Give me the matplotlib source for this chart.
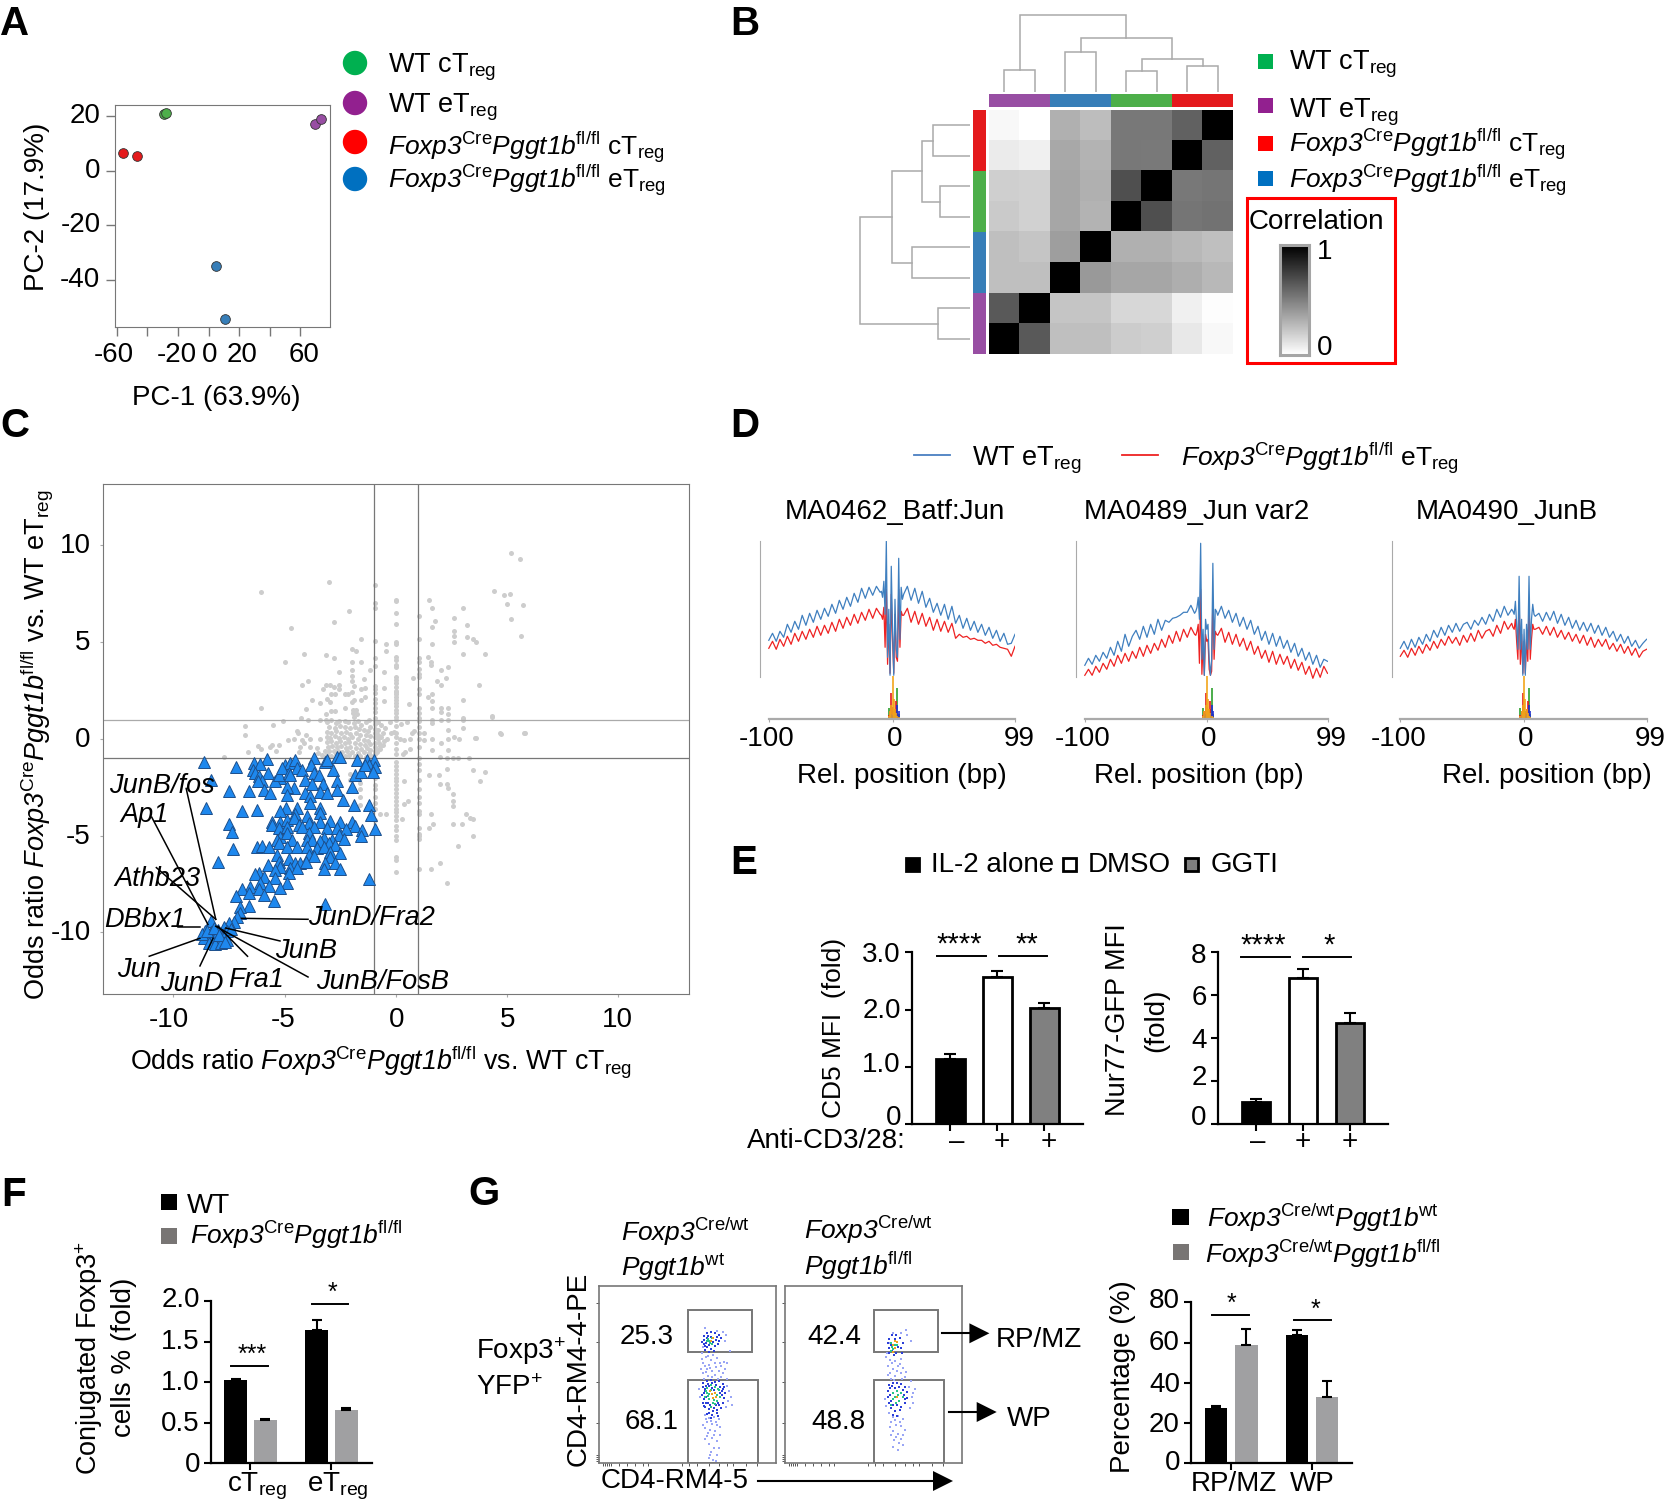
import numpy as np
import matplotlib
matplotlib.use('Agg')
import matplotlib.pyplot as plt
from matplotlib.patches import Rectangle, Ellipse, Polygon
from matplotlib.transforms import ScaledTranslation

plt.rcParams['font.family'] = ['Liberation Sans', 'DejaVu Sans']
plt.rcParams['mathtext.fontset'] = 'custom'
plt.rcParams['mathtext.rm'] = 'Liberation Sans'
plt.rcParams['mathtext.it'] = 'Liberation Sans:italic'
plt.rcParams['mathtext.cal'] = 'Liberation Sans:italic'
plt.rcParams['mathtext.bf'] = 'Liberation Sans:bold'
plt.rcParams['axes.unicode_minus'] = False

W, H = 1664, 1500

# panel A
pca_green = [[-29.2, 20.8], [-27.9, 21.0]]
pca_red = [[-56, 6.4], [-47, 5.4]]
pca_purple = [[69.8, 17.2], [74, 18.9]]
pca_blue = [[5.2, -34.8], [11, -54.2]]

# panel B, 0 white 1 black
corr = [[.03, .00, .31, .26, .53, .53, .62, 1.0],
        [.08, .06, .34, .30, .53, .52, 1.0, .62],
        [.19, .18, .35, .31, .69, 1.0, .53, .54],
        [.21, .18, .35, .30, 1.0, .69, .54, .55],
        [.25, .23, .38, 1.0, .31, .31, .28, .25],
        [.25, .25, 1.0, .40, .35, .35, .32, .28],
        [.65, 1.0, .23, .23, .16, .16, .06, .01],
        [1.0, .65, .25, .25, .20, .19, .09, .03]]
# dendrogram joins: pos a, pos b, height, height a, height b
top_tree = [[.5, 1.5, 22, 0, 0], [2.5, 3.5, 40, 0, 0], [4.5, 5.5, 21, 0, 0], [6.5, 7.5, 26, 0, 0],
            [5, 7, 33, 21, 26], [3, 6, 54, 40, 33], [1, 4.5, 77, 22, 54]]
left_tree = [[.5, 1.5, 37, 0, 0], [2.5, 3.5, 30, 0, 0], [1, 3, 48, 37, 30], [4.5, 5.5, 58, 0, 0],
             [2, 5, 78, 48, 58], [6.5, 7.5, 32, 0, 0], [3.5, 7, 110, 78, 32]]

# panel C
gray_col_m1 = [7.97, 6.78, 5.04, 4.16, 3.75, 2.74, 2.6, 2.35, 2.05, 1.85, 1.6, 1.4, 1.1, .95, .75, .5, .3, .1, -.2, -.4,
               -.6, -.8, -1.5, -2, -2.4, -2.6, -3, -3.3, -3.6, -4.2]
gray_col_0 = [7.17, 7.1, 6.5, 5.95, 5.0, 4.9, 4.25, 4.1, 3.8, 3.7, 3.2, 3.05, 2.9, 2.7, 2.5, 2.4, 2.3, 2.15, 2.0, 1.85,
              1.7, 1.5, 1.35, 1.15, 1.0, .65, .3, .1, -.2, -.5, -.8, -1.2, -1.4, -1.6, -1.8, -2, -2.2, -2.4, -2.6, -2.8,
              -3, -3.2, -3.4, -3.6, -3.8, -4, -4.2, -4.5, -4.7, -5.0, -5.2, -6.1, -6.26, -6.9]
gray_col_p1 = [6.35, 5.17, 4.17, 3.95, 3.6, 3.34, 3.2, 2.6, 2.33, 1.58, 1.32, 1.1, .9, .6, .3, 0, -.4, -1.0, -1.3, -1.6,
               -2.1, -2.6, -3, -3.3, -3.7, -3.9, -4.6, -4.9, -5.0, -5.15, -6.7]
gray_free = [[5.2, 9.59], [5.6, 9.28], [4.4, 7.64], [4.88, 7.44], [5.15, 7.5], [5.0, 6.97], [5.7, 6.92], [5.18, 6.2],
             [5.63, 5.32], [-6.07, 7.58], [-3.02, 8.09], [-.92, 7.02], [-2.12, 6.59], [-2.77, 6.03], [-4.72, 5.72],
             [-1.55, 5.15], [-1.96, 4.65], [-1.78, 4.53], [-.46, 4.9], [-.46, 4.56], [-4.13, 4.39], [-3.13, 4.32],
             [-2.77, 4.16], [-5.0, 3.99], [1.48, 7.16], [1.61, 6.77], [1.76, 6.11], [1.61, 5.8], [2.6, 6.25],
             [3.19, 5.87], [3.02, 6.78], [2.6, 5.56], [2.62, 5.32], [2.62, 4.99], [3.2, 5.25], [3.47, 5.18], [3.6, 4.99],
             [1.61, 4.9], [3.02, 4.39], [4.01, 4.39], [1.45, 4.22], [1.6, 3.99], [1.6, 3.82], [2.02, 3.58], [2.36, 3.7],
             [2.27, 3.17], [1.84, 3.0], [2.02, 2.8], [3.73, 2.8], [1.45, 2.18], [1.61, 2.32], [1.61, 1.98], [3.02, 1.99],
             [2.02, 1.58], [2.02, 1.41], [2.36, 1.58], [2.36, 1.29], [1.61, 1.58], [1.61, .98], [1.61, .8], [2.02, .98],
             [2.36, .98], [3.04, 1.1], [3.04, .98], [3.04, .55], [4.34, 1.13], [4.73, .27], [5.8, .32], [3.6, .05],
             [2.36, .46], [2.6, .12], [2.83, 0], [2.36, 0], [1.61, 0], [1.25, .29], [1.25, -.05], [2.02, -.23],
             [1.61, -.57], [2.36, -.57], [.77, 3.17], [-.55, 3.46], [-1.18, 3.56], [-1.43, 3.1], [-.55, 2.65],
             [-1.55, 3.99], [-1.96, 3.96], [-1.96, 3.56], [-1.96, 3.25], [-1.96, 2.99], [-1.87, 2.75], [-2.56, 3.44],
             [-3.95, 3], [-4.21, 2.8], [-3.13, 2.8], [-2.95, 2.79], [-2.77, 2.7], [-2.56, 2.79], [-2.56, 2.58],
             [-3.28, 2.58], [-1.96, 2.42], [-2.27, 2.3], [-2.15, 2.3], [-2.9, 2.34], [-2.75, 2.34], [-3.1, 2.06],
             [-2.98, 1.93], [-3.43, 1.87], [-3.76, 2.01], [-6.07, 1.58], [-4.06, 1.55], [-2.27, 1.58], [-1.96, 1.93],
             [-1.87, 2.01], [-1.55, 1.99], [-1.39, 2.18], [-1.55, 2.58], [-1.4, 2.65], [-.55, 1.96], [.6, 1.82],
             [-3.13, 1.3], [-2.9, 1.46], [-2.75, 1.46], [-1.93, 1.49], [-1.78, 1.49], [-1.93, 1.32], [-1.75, 1.29],
             [-1.9, 1.15], [-4.28, 1.1], [-3.95, .98], [-3.43, .98], [-3.13, .98], [-5.08, .93], [-5.51, .72],
             [-6.8, .67], [-6.79, .22], [-4.45, .43], [-4.42, .29], [-6.19, -.37], [-6.07, -.54], [-5.57, -.33],
             [-5.24, -.3], [-5.68, -.43], [-5.38, -.6], [-6.67, -.68], [-7.74, -.92], [-4.87, -.06], [-4.6, 0],
             [-4.04, .19], [-4.22, -.06], [-3.85, 0], [-3.43, 0], [-4.3, -.4], [-4.15, -.23], [-3.85, -.4],
             [-4.37, -.66], [-3.55, -.49], [-.25, .86], [.22, .75], [.52, .86], [-.2, .32], [-.1, .37], [.73, .32],
             [.82, .39], [.2, 0], [.35, -.05], [.65, 0], [.62, -.52], [.43, -.69], [.31, -.8], [-.4, 0], [-.55, -.12],
             [-.7, -.38], [-.85, -.7], [-2.05, -1.8], [-2.05, -2.1], [-1.6, -1.76], [-1.6, -2], [-1.6, -2.3],
             [-1.6, -2.6], [-1.6, -3], [-1.6, -3.4], [.36, -2.2], [1.51, -1.85], [1.99, -.96], [2.31, -1.01],
             [2.58, -1.01], [2.81, -1.01], [3.29, -1.01], [4.0, -1.73], [3.79, -2.2], [3.45, -1.62], [1.92, -1.85],
             [1.99, -2.33], [2.31, -1.58], [2.31, -2.33], [2.35, -2.56], [2.58, -2.83], [2.58, -3.19], [2.58, -3.45],
             [3.17, -3.9], [3.35, -4.07], [3.45, -4.16], [2.58, -4.4], [2.99, -4.4], [3.45, -5.02], [2.81, -5.53],
             [1.6, -3.9], [1.65, -4.4], [1.51, -4.6], [1.99, -6.39], [1.57, -6.74], [2.31, -7.46], [4.7, .28], [5.77, .32],
             [4.32, 1.16], [3.56, .07], [.27, -4.16], [.53, -3.19], [.36, -3.36], [-.44, -3.86], [-.71, -3.9]]
gray_blob = [[-3.1, .85], [-2.9, .98], [-2.7, .8], [-2.55, .92], [-2.3, .95], [-2.15, .85], [-1.9, .8], [-1.7, .95],
             [-1.55, .7], [-1.35, .85], [-1.2, .98], [-1.15, .6], [-.8, .85], [-.65, .7], [-.5, .55], [-3.0, .6],
             [-2.75, .55], [-2.5, .65], [-2.3, .6], [-2.05, .55], [-1.85, .6], [-1.65, .5], [-1.45, .45], [-1.25, .4],
             [-.8, .45], [-.6, .3], [-3.1, .35], [-2.9, .3], [-2.7, .4], [-2.45, .3], [-2.25, .35], [-2.05, .25],
             [-1.8, .3], [-1.6, .2], [-1.35, .18], [-1.15, .15], [-.8, .2], [-.65, .1], [-3.1, .1], [-2.95, .05],
             [-2.75, .15], [-2.55, .05], [-2.35, .1], [-2.15, 0], [-1.95, .08], [-1.7, -.02], [-1.45, -.05], [-1.25, -.1],
             [-.8, 0], [-3.1, -.15], [-2.9, -.1], [-2.7, -.2], [-2.5, -.12], [-2.3, -.2], [-2.1, -.15], [-1.85, -.22],
             [-1.6, -.25], [-1.4, -.3], [-1.15, -.25], [-.75, -.2], [-.6, -.3], [-3.05, -.4], [-2.85, -.35], [-2.65, -.42],
             [-2.45, -.38], [-2.25, -.45], [-2.05, -.4], [-1.8, -.48], [-1.55, -.5], [-1.3, -.45], [-1.15, -.55],
             [-.7, -.5], [-3.2, -.62], [-3.0, -.6], [-2.8, -.65], [-2.6, -.6], [-2.4, -.68], [-2.2, -.62], [-1.95, -.7],
             [-1.7, -.72], [-1.45, -.7], [-1.2, -.75], [-.8, -.55], [-3.5, -.75], [-3.3, -.82], [-3.1, -.85], [-2.9, -.88],
             [-2.7, -.8], [-2.5, -.85], [-2.3, -.9], [-2.1, -.85], [-1.85, -.9], [-1.6, -.88], [-1.35, -.92], [-1.1, -.88]]
tri_pts = [[-8.62, -1.17], [-7.19, -1.43], [-8.32, -2.12], [-7.52, -2.69], [-6.59, -2.69], [-8.54, -3.58], [-6.92, -3.7],
           [-6.26, -3.67], [-7.49, -4.41], [-7.37, -4.79], [-7.34, -5.68], [-8.02, -6.34], [-5.8, -1.03], [-6.37, -1.22],
           [-6.1, -1.29], [-6.43, -1.6], [-6.32, -1.77], [-5.77, -1.77], [-6.17, -1.94], [-6.02, -2.15], [-6.22, -2.15],
           [-5.92, -2.63], [-5.65, -2.81], [-5.2, -2.03], [-5.42, -2.2], [-5.27, -1.86], [-4.97, -1.34], [-4.75, -1.26],
           [-4.52, -1.08], [-5.12, -1.51], [-4.82, -1.77], [-4.45, -1.51], [-4.22, -1.6], [-4.75, -1.86], [-3.7, -1.0],
           [-3.82, -1.34], [-3.17, -1.17], [-3.1, -1.08], [-2.65, -.95], [-2.5, -.95], [-3.7, -1.74], [-3.47, -1.86],
           [-2.84, -1.6], [-4.07, -2.12], [-3.77, -2.34], [-3.28, -2.34], [-2.65, -2.2], [-4.6, -2.55], [-4.9, -2.46],
           [-4.9, -2.89], [-4.07, -2.81], [-3.85, -2.94], [-3.4, -2.75], [-3.1, -2.77], [-2.65, -2.63], [-3.88, -3.29],
           [-1.96, -2.46], [-1.82, -1.86], [-1.55, -1.69], [-1.75, -1.08], [-1.3, -1.08], [-1.0, -1.08], [-1.22, -1.34],
           [-.92, -1.43], [-1.37, -1.34], [-1.03, -1.69], [-2.39, -3.15], [-1.9, -3.41], [-1.22, -3.44], [-3.43, -3.58],
           [-3.4, -3.84], [-1.12, -3.93], [-4.96, -3.58], [-4.45, -3.58], [-5.2, -3.75], [-4.52, -3.87], [-5.57, -4.27],
           [-5.2, -4.27], [-4.9, -4.18], [-4.6, -4.1], [-4.0, -3.98], [-3.4, -4.27], [-2.98, -4.24], [-2.5, -4.27],
           [-1.97, -4.27], [-1.82, -4.49], [-1.52, -4.7], [-.95, -4.65], [-1.55, -5.0], [-5.57, -4.44], [-5.27, -4.62],
           [-4.9, -4.56], [-4.37, -4.44], [-3.92, -4.36], [-3.7, -4.56], [-3.1, -4.62], [-2.65, -4.62], [-2.24, -4.65],
           [-4.22, -4.53], [-5.2, -5.05], [-4.9, -4.87], [-4.67, -5.22], [-5.35, -5.22], [-3.92, -4.87], [-3.25, -5.13],
           [-2.57, -4.96], [-2.87, -5.22], [-2.35, -5.17], [-6.25, -5.56], [-6.02, -5.53], [-5.72, -5.56], [-5.27, -5.39],
           [-4.9, -5.6], [-4.45, -5.6], [-4.0, -5.22], [-3.77, -5.22], [-3.4, -5.3], [-3.02, -5.39], [-2.72, -5.48],
           [-4.0, -5.56], [-3.55, -5.65], [-3.25, -5.56], [-5.35, -5.99], [-3.92, -5.99], [-3.7, -6.05], [-2.95, -5.82],
           [-2.53, -5.91], [-2.95, -6.08], [-5.77, -6.51], [-5.27, -6.34], [-4.82, -6.22], [-4.52, -6.39], [-4.3, -6.42],
           [-4.03, -6.37], [-3.17, -6.39], [-2.72, -6.42], [-4.75, -6.68], [-4.45, -6.68], [-5.2, -6.6], [-3.22, -6.73],
           [-2.53, -6.73], [-6.17, -6.94], [-6.32, -6.98], [-5.95, -7.16], [-5.42, -6.77], [-5.42, -7.2], [-4.82, -6.94],
           [-4.9, -7.46], [-1.19, -7.25], [-6.1, -7.46], [-5.72, -7.58], [-5.2, -7.72], [-6.55, -7.63], [-6.17, -7.75],
           [-6.92, -7.77], [-7.19, -8.11], [-6.62, -7.94], [-5.95, -8.06], [-5.5, -8.4], [-3.17, -8.54], [-6.62, -8.63],
           [-7.0, -8.71], [-7.03, -9.0], [-7.15, -9.18], [-7.3, -9.44], [-7.52, -9.52], [-7.75, -9.7], [-8.3, -9.4],
           [-8.0, -9.85], [-8.6, -9.9], [-8.3, -10.0], [-8.1, -10.2], [-7.9, -10.3], [-8.45, -10.25], [-8.65, -10.3],
           [-8.25, -10.4], [-8.0, -10.5], [-7.75, -10.1], [-7.6, -9.9], [-8.7, -10.1], [-8.4, -10.55], [-8.15, -10.6],
           [-7.6, -10.4], [-7.4, -9.8], [-7.85, -10.55], [-8.5, -9.95], [-8.2, -9.75], [-7.95, -10.15], [-7.7, -10.5]]
gene_labels = ['JunB/fos', 'Ap1', 'Athb23', 'DBbx1', 'Jun', 'JunD', 'Fra1', 'JunB/FosB', 'JunB', 'JunD/Fra2']
gene_label_x = [-12.9, -12.4, -12.65, -13.1, -12.55, -10.6, -7.55, -3.6, -5.45, -3.95]
gene_label_y = [-2.8, -4.3, -7.6, -9.7, -12.3, -13.0, -12.8, -12.9, -11.3, -9.6]
gene_line_from = [[-9.43, -2.56], [-10.98, -4.04], [-10.77, -6.65], [-9.79, -9.72], [-11.09, -11.23], [-8.81, -11.73],
                  [-6.67, -11.23], [-3.95, -12.3], [-5.21, -10.44], [-3.95, -9.32]]
gene_line_to = [[-8.1, -9.32], [-8.45, -9.59], [-8.1, -9.32], [-8.81, -9.72], [-8.81, -10.3], [-8.22, -10.3],
                [-8.0, -9.68], [-8.1, -9.68], [-7.65, -9.77], [-6.94, -9.27]]

# panel D
pos_left = list(range(-100, -9, 3))
pos_mid = list(range(-9, 10))
pos_right = list(range(12, 100, 3))
d_titles = ['MA0462_Batf:Jun', 'MA0489_Jun var2', 'MA0490_JunB']
d1_blue = [79, 86, 78, 88, 82, 95, 87, 98, 90, 104, 94, 106, 97, 109, 100, 111, 103, 115, 106, 119, 110, 122, 113, 126, 117, 131, 121, 132, 124, 133, 127,
           128, 122, 138, 105, 178, 62, 110, 44, 153, 90, 44, 120, 70, 62, 161, 80, 132, 120, 125,
           133, 119, 131, 116, 128, 112, 121, 107, 116, 104, 115, 100, 113, 96, 104, 91, 101, 89, 98, 87, 95, 84, 92, 81, 89, 78, 86, 75, 76, 85]
d1_red = [71, 78, 70, 80, 73, 83, 75, 86, 78, 88, 80, 90, 82, 93, 84, 94, 86, 97, 88, 100, 91, 102, 94, 105, 96, 107, 99, 110, 101, 111, 105,
          104, 100, 112, 72, 130, 55, 95, 46, 125, 80, 46, 105, 62, 58, 130, 72, 108, 104, 104,
          111, 97, 108, 95, 106, 93, 102, 89, 100, 88, 98, 87, 96, 81, 85, 82, 83, 80, 81, 79, 79, 76, 78, 74, 75, 72, 71, 70, 63, 73]
d2_blue = [54, 61, 55, 64, 58, 67, 61, 72, 64, 78, 68, 85, 73, 83, 89, 80, 93, 82, 95, 85, 100, 89, 99, 97, 101, 102, 104, 107, 107, 114, 106,
           108, 112, 122, 100, 176, 60, 90, 44, 100, 90, 95, 60, 44, 60, 156, 70, 110, 108, 104,
           113, 101, 109, 97, 106, 93, 102, 90, 99, 85, 93, 79, 88, 75, 86, 73, 83, 71, 79, 67, 76, 63, 71, 59, 67, 55, 64, 52, 60, 58]
d2_red = [44, 50, 44, 53, 47, 56, 50, 60, 53, 64, 56, 66, 58, 68, 61, 72, 63, 74, 66, 76, 69, 80, 72, 84, 76, 88, 78, 90, 82, 92, 85,
          84, 88, 95, 56, 130, 45, 75, 44, 85, 78, 80, 50, 44, 48, 120, 60, 88, 85, 84,
          91, 77, 87, 75, 85, 73, 81, 69, 78, 65, 73, 61, 69, 57, 68, 55, 65, 55, 63, 51, 60, 49, 57, 45, 53, 41, 51, 42, 53, 46]
d3_blue = [71, 78, 70, 80, 72, 82, 75, 85, 78, 89, 82, 92, 84, 94, 87, 96, 88, 95, 97, 90, 99, 94, 102, 95, 105, 98, 110, 102, 113, 104, 110,
           108, 105, 118, 95, 70, 143, 70, 100, 44, 90, 44, 95, 70, 143, 70, 100, 115, 105, 103,
           106, 98, 107, 99, 108, 96, 105, 94, 102, 91, 99, 89, 97, 88, 96, 86, 94, 84, 92, 82, 88, 78, 85, 76, 83, 73, 79, 71, 76, 80]
d3_red = [63, 69, 62, 71, 64, 73, 66, 75, 69, 78, 71, 80, 74, 83, 76, 82, 74, 84, 77, 86, 78, 89, 81, 88, 90, 83, 94, 86, 98, 90, 96,
          92, 90, 100, 78, 60, 118, 55, 85, 46, 78, 46, 80, 58, 118, 60, 80, 95, 90, 90,
          92, 85, 93, 84, 92, 82, 89, 80, 87, 78, 85, 76, 84, 74, 82, 72, 80, 73, 80, 70, 76, 68, 75, 66, 73, 64, 71, 62, 68, 70]
motif_bp = [-3, -2, -1, 0, 1, 2, 3, 4, 5]
motif_yellow = [3, 8, 14, 43, 20, 10, 6, 3, 2]
motif_green = [11, 6, 4, 3, 8, 5, 10, 31, 5]
motif_red = [4, 8, 26, 12, 6, 10, 18, 5, 2]
motif_blue = [2, 3, 5, 4, 3, 5, 6, 14, 8]

# panel E
e_cd5 = [1.14, 2.57, 2.02]
e_cd5_err = [.09, .11, .09]
e_nur = [1.02, 6.79, 4.69]
e_nur_err = [.13, .43, .48]
e_marks = ['–', '+', '+']

# panel F
f_wt = [1.03, 1.64]
f_wt_err = [.015, .13]
f_ko = [.53, .655]
f_ko_err = [.012, .025]

# panel G
g_wt = [27.6, 63.6]
g_wt_err = [.7, 2.6]
g_ko = [58.9, 33.1]
g_ko_err = [8, 7.8]

# flow dots, plot units
f1_light = [[106, 135], [118, 132], [124, 131], [127, 128], [131, 112], [126, 122], [104, 116], [103, 110], [107, 106],
            [112, 103], [118, 105], [104, 100], [110, 98], [116, 100], [122, 97], [108, 94], [113, 92], [120, 92], [126, 94],
            [104, 90], [109, 87], [116, 88], [122, 86], [128, 84], [105, 84], [130, 72], [129, 62], [132, 66], [127, 56],
            [106, 48], [110, 45], [115, 46], [120, 44], [108, 41], [113, 39], [118, 38], [106, 35], [111, 33], [116, 32],
            [108, 27], [113, 25], [118, 22], [110, 19], [115, 15], [112, 11], [118, 8], [110, 5], [114, 3], [117, 2], [121, 28],
            [103, 104], [109, 107], [114, 108], [121, 100], [106, 97], [111, 95], [117, 96], [124, 90], [107, 91], [113, 86],
            [119, 84], [102, 94], [125, 101], [128, 100], [133, 58], [101, 66], [100, 74], [128, 77], [107, 44], [112, 42],
            [117, 41], [104, 38], [121, 36], [109, 30], [115, 28], [106, 24], [120, 15], [111, 8]]
f1_blue = [[105, 127], [108, 130], [112, 131], [116, 130], [120, 128], [122, 125], [105, 123], [108, 125], [118, 126], [105, 119],
           [108, 116], [112, 114], [116, 117], [120, 122], [106, 113], [110, 111], [104, 80], [108, 82], [112, 83], [116, 81],
           [120, 82], [124, 79], [104, 76], [106, 72], [124, 74], [126, 70], [103, 68], [105, 64], [125, 65], [124, 60],
           [104, 60], [106, 56], [110, 54], [114, 52], [118, 53], [122, 55], [108, 49], [113, 48], [118, 50], [107, 77],
           [121, 76], [123, 68], [107, 60], [120, 58], [110, 77], [107, 120], [110, 118], [114, 121], [117, 123], [106, 117],
           [112, 126], [115, 112], [119, 119], [109, 127], [103, 121], [105, 70], [107, 66], [109, 60], [111, 58], [113, 75],
           [115, 73], [117, 58], [119, 60], [121, 70], [123, 72], [106, 74], [109, 79], [113, 80], [117, 78], [105, 57],
           [110, 50], [115, 55], [119, 47], [112, 45], [125, 76]]
f1_green = [[108, 122], [111, 120], [109, 124], [113, 125], [108, 75], [112, 78], [116, 76], [120, 73], [108, 70], [110, 64],
            [114, 60], [118, 62], [121, 66], [106, 66], [112, 56], [107, 72], [110, 69], [112, 73], [115, 63], [118, 68],
            [119, 74], [109, 67], [116, 59], [110, 122], [113, 119]]
f1_hot = [[112, 122], [114, 125], [113, 69], [116, 70], [114, 65], [117, 66], [111, 72]]
f2_light = [[108, 130], [116, 130], [122, 128], [126, 122], [121, 133], [104, 120], [102, 110], [105, 103], [110, 102],
            [116, 104], [103, 97], [108, 94], [113, 97], [118, 95], [105, 90], [110, 87], [116, 90], [120, 86], [106, 84],
            [126, 82], [124, 76], [128, 70], [128, 60], [125, 55], [104, 50], [108, 46], [113, 47], [118, 44], [106, 41],
            [111, 38], [116, 37], [108, 32], [113, 29], [118, 28], [109, 23], [114, 20], [108, 16], [113, 13], [118, 18],
            [101, 106], [107, 100], [112, 92], [115, 99], [121, 91], [103, 88], [109, 83], [117, 84], [127, 66], [130, 74],
            [100, 64], [101, 57], [110, 43], [115, 41], [105, 36], [120, 33], [111, 26], [116, 24], [106, 28]]
f2_blue = [[104, 124], [107, 128], [111, 128], [115, 125], [118, 120], [104, 115], [107, 112], [111, 110], [116, 115], [104, 110],
           [104, 78], [108, 80], [112, 80], [116, 79], [120, 76], [103, 72], [122, 71], [103, 66], [122, 65], [104, 60],
           [120, 60], [106, 55], [110, 52], [115, 53], [108, 48], [112, 47], [106, 118], [110, 124], [113, 116], [103, 120],
           [109, 108], [117, 110], [105, 75], [107, 77], [110, 75], [114, 76], [118, 73], [105, 68], [106, 62], [108, 58],
           [112, 58], [116, 56], [119, 68], [120, 64]]
f2_green = [[106, 120], [108, 114], [112, 118], [108, 70], [112, 72], [116, 70], [108, 64], [114, 62], [118, 66], [106, 58],
            [106, 112], [110, 118], [107, 116], [110, 66], [113, 68], [111, 60]]
f2_hot = [[108, 118], [110, 122], [110, 115], [112, 121], [108, 111], [112, 66]]
facs_y_ticks = [2, 4, 6, 8, 40, 81, 121, 160]
facs_x_ticks = [4, 6, 8, 10, 12, 20, 28, 36, 44, 49, 83, 90, 98, 110, 120, 128, 134, 147, 158]


def px_ax(l, t, r, b):
    return fig.add_axes([l / W, 1 - b / H, (r - l) / W, (b - t) / H])


def txt(x, y, s, size=20, **kw):
    ov.text(x, y, s, fontsize=size, va=kw.pop('va', 'baseline'), **kw)


def pair(rows):
    return np.array(rows).T


def shift(labels, dxs, dys):
    for lab, dx, dy in zip(labels, dxs, dys):
        lab.set_transform(lab.get_transform() + ScaledTranslation(dx / 100, dy / 100, fig.dpi_scale_trans))


fig = plt.figure(figsize=(W / 100, H / 100), dpi=100)
ov = fig.add_axes([0, 0, 1, 1], zorder=20)
ov.set_xlim(0, W)
ov.set_ylim(H, 0)
ov.axis('off')

genotype = r'$\mathcal{Foxp3}^{\mathrm{Cre}}\mathcal{Pggt1b}^{\mathrm{fl/fl}}$'
sub = r'$_{\mathrm{reg}}$'

for x, y, s in [(0, 35, 'A'), (730, 35, 'B'), (0, 437, 'C'), (730, 437, 'D'), (730, 874, 'E'), (1, 1206, 'F'), (468, 1205, 'G')]:
    txt(x, y, s, size=29, fontweight='bold')

# A
ax = px_ax(115, 104.7, 329.5, 327)
for pts, col in [(pca_green, '#4daf4a'), (pca_red, '#e41a1c'), (pca_purple, '#984ea3'), (pca_blue, '#377eb8')]:
    px, py = pair(pts)
    ax.plot(px, py, 'o', color=col, mec='#333333', mew=.6, ms=7)
ax.set_xlim(-61.3, 79.3)
ax.set_ylim(-57.2, 24.1)
ax.set_xticks([-60, -40, -20, 0, 20, 40, 60])
ax.set_xticklabels(['-60', '', '-20', '0', '20', '', '60'], fontsize=20)
ax.set_yticks([20, 0, -20, -40])
ax.set_yticklabels(['20', '0', '-20', '-40'], fontsize=20)
ax.tick_params(length=6.5, color='#777777', width=1, pad=4)
shift(ax.get_xticklabels(), [-3, 0, -1, 1, 3, 0, 4], [0] * 7)
shift(ax.get_yticklabels(), [0] * 4, [3] * 4)
for s in ax.spines.values():
    s.set_color('#777777')
txt(37, 207, 'PC-2 (17.9%)', rotation=90, ha='center', va='center')
txt(216.5, 405, 'PC-1 (63.9%)', ha='center')
for y, col in [(63, '#00b050'), (103, '#92208f'), (142, '#ff0000'), (179, '#0070c0')]:
    ov.add_patch(Ellipse((355, y), 23, 23, color=col))
txt(387.5, 72.7, 'WT cT' + sub, size=19.5)
txt(387.5, 112.7, 'WT eT' + sub, size=19.5)
txt(387.5, 155, genotype + ' cT' + sub, size=19)
txt(387.5, 188, genotype + ' eT' + sub, size=19)

# B
ax = px_ax(989, 110, 1233, 354.3)
ax.imshow(corr, cmap='gray_r', vmin=0, vmax=1, aspect='auto', interpolation='nearest', extent=(0, 8, 8, 0))
ax.axis('off')
cols_top = ['#984ea3', '#377eb8', '#4daf4a', '#e41a1c']
ax = px_ax(989, 94.3, 1233, 106.7)
for i, col in enumerate(cols_top):
    ax.add_patch(Rectangle((i * 2, 0), 2, 1, color=col, lw=0))
ax.set_xlim(0, 8)
ax.set_ylim(0, 1)
ax.axis('off')
ax = px_ax(973.4, 110, 985.5, 354.3)
for i, col in enumerate(['#e41a1c', '#4daf4a', '#377eb8', '#984ea3']):
    ax.add_patch(Rectangle((0, i * 2), 1, 2, color=col, lw=0))
ax.set_xlim(0, 1)
ax.set_ylim(8, 0)
ax.axis('off')
ax = px_ax(989, 14, 1233, 91.7)
for a, b, h, ha, hb in top_tree:
    ax.plot([a, a, b, b], [ha, h, h, hb], color='#aaaaaa', lw=1.1, solid_joinstyle='miter')
ax.set_xlim(0, 8)
ax.set_ylim(0, 77.7)
ax.axis('off')
ax = px_ax(859, 110, 969.6, 354.3)
for a, b, h, ha, hb in left_tree:
    ax.plot([ha, h, h, hb], [a, a, b, b], color='#aaaaaa', lw=1.1, solid_joinstyle='miter')
ax.set_xlim(110.6, 0)
ax.set_ylim(8, 0)
ax.axis('off')
for y, col in [(61.7, '#00b050'), (105, '#92208f'), (143, '#ff0000'), (178, '#0070c0')]:
    ov.add_patch(Rectangle((1258, y - 7.5), 15, 15, color=col, lw=0))
txt(1288.8, 70, 'WT cT' + sub, size=19.5)
txt(1288.8, 117, 'WT eT' + sub, size=19.5)
txt(1288.8, 151.7, genotype + ' cT' + sub, size=19)
txt(1288.8, 188, genotype + ' eT' + sub, size=19)
ov.add_patch(Rectangle((1246.6, 197.7), 148.1, 165.6, fill=False, ec='#ff0000', lw=2.2))
txt(1249, 229, 'Correlation')
ax = px_ax(1280, 245, 1309, 355)
ax.imshow(np.linspace(0, 1, 100).reshape(-1, 1), cmap='gray', aspect='auto', vmin=0, vmax=1)
ax.set_xticks([])
ax.set_yticks([])
for s in ax.spines.values():
    s.set_color('#a5a5a5')
    s.set_linewidth(2.2)
txt(1317, 259, '1')
txt(1317, 355, '0')

# C
ax = px_ax(103, 483.8, 688.7, 994.4)
gx, gy = pair(gray_free + gray_blob)
ax.plot(gx, gy, 'o', color='#cdcdcd', ms=3.6, mew=0)
ax.plot([-.95] * len(gray_col_m1), gray_col_m1, 'o', color='#cdcdcd', ms=3.6, mew=0)
ax.plot([0] * len(gray_col_0), gray_col_0, 'o', color='#cdcdcd', ms=3.6, mew=0)
ax.plot([1.03] * len(gray_col_p1), gray_col_p1, 'o', color='#cdcdcd', ms=3.6, mew=0)
ax.axhline(1, color='#aaaaaa', lw=.9)
ax.axhline(-1, color='#777777', lw=.9)
ax.axvline(-1, color='#777777', lw=.9)
ax.axvline(1, color='#777777', lw=.9)
tx, ty = pair(tri_pts)
ax.plot(tx, ty, '^', color='#1e88ee', mec='#1c4f8c', mew=.7, ms=8.6)
for a, b in zip(gene_line_from, gene_line_to):
    ax.plot([a[0], b[0]], [a[1], b[1]], color='k', lw=1.1)
for s, x, y in zip(gene_labels, gene_label_x, gene_label_y):
    ax.text(x, y, s, fontsize=19.5, style='italic', va='baseline', clip_on=False)
ax.set_xlim(-13.17, 13.17)
ax.set_ylim(-13.2, 13.18)
ax.set_xticks([-10, -5, 0, 5, 10])
ax.set_xticklabels(['-10', '-5', '0', '5', '10'], fontsize=20)
ax.set_yticks([10, 5, 0, -5, -10])
ax.set_yticklabels(['10', '5', '0', '-5', '-10'], fontsize=20)
ax.tick_params(length=2, color='#aaaaaa', pad=7)
shift(ax.get_xticklabels(), [-5, -2, 1, 1, -1], [0] * 5)
shift(ax.get_yticklabels(), [0] * 5, [2] * 5)
for s in ax.spines.values():
    s.set_color('#777777')
txt(37, 745, r'Odds ratio ' + genotype + ' vs. WT eT' + sub, size=19.5, rotation=90, ha='center', va='center')
txt(381, 1070, r'Odds ratio ' + genotype + ' vs. WT cT' + sub, size=19.3, ha='center')

# D
ov.plot([914, 950], [455, 455], color='#4a7fc1', lw=1.3)
ov.plot([1121.6, 1158.3], [455, 455], color='#ee2222', lw=1.3)
txt(971.7, 466, 'WT eT' + sub, size=19.5)
txt(1180.6, 466, genotype + ' eT' + sub, size=19)
d_pos = pos_left + pos_mid + pos_right
d_boxes = [(759.7, 768.8, 1015), (1075.8, 1084.8, 1327.5), (1391.9, 1400.3, 1646.6)]
d_title_x = [784.4, 1084, 1415.4]
d_lab_x = [797, 1094.5, 1442.4]
for i, (blue, red) in enumerate([(d1_blue, d1_red), (d2_blue, d2_red), (d3_blue, d3_red)]):
    l, m0, r = d_boxes[i]
    ax = px_ax(l, 541, r, 719.3)
    ax.plot(d_pos, red, color='#ee2222', lw=.9)
    ax.plot(d_pos, blue, color='#3f7fbf', lw=.9)
    ax.vlines(motif_bp, 0, motif_green, color='#2ca02c', lw=1.2)
    ax.vlines(motif_bp, 0, motif_red, color='#e41a1c', lw=1.2)
    ax.vlines(motif_bp, 0, motif_blue, color='#1f2fd0', lw=1.2)
    ax.vlines(motif_bp, 0, motif_yellow, color='#f2a51a', lw=1.2)
    ax.set_xlim(-100 - (m0 - l) * 199 / (r - m0), 99)
    ax.set_ylim(0, 178.3)
    for s in ['top', 'right']:
        ax.spines[s].set_visible(False)
    ax.spines['left'].set_bounds(42, 178)
    ax.spines['left'].set_color('#aaaaaa')
    ax.spines['bottom'].set_bounds(-100, 99)
    ax.spines['bottom'].set_color('#aaaaaa')
    ax.spines['bottom'].set_linewidth(1.6)
    ax.set_yticks([])
    ax.set_xticks([-100, 0, 99])
    ax.set_xticklabels(['-100', '0', '99'], fontsize=20)
    ax.tick_params(length=2, color='#aaaaaa', pad=3)
    shift(ax.get_xticklabels(), [-2, 2, 4], [0] * 3)
    txt(d_title_x[i], 519, d_titles[i])
    txt(d_lab_x[i], 783, 'Rel. position (bp)')


# bars with error caps and brackets
def style_bars(ax):
    for s in ['top', 'right']:
        ax.spines[s].set_visible(False)
    for s in ['left', 'bottom']:
        ax.spines[s].set_linewidth(1.6)
    ax.tick_params(length=5, width=1.5, pad=3, labelsize=20)


def bracket(x0, x1, y, star_x, stars, star_y, size=18):
    ov.plot([x0, x1], [y, y], color='k', lw=1.4)
    txt(star_x, star_y, stars, size=size, ha='center')


e_cols = ['k', 'w', '#808080']
# CD5 bars
ax = px_ax(912, 952.3, 1082.5, 1124)
ax.bar([0, 1, 2], e_cd5, .6, color=e_cols, edgecolor='k', linewidth=2)
ax.errorbar([0, 1, 2], e_cd5, yerr=[[0, 0, 0], e_cd5_err], fmt='none', ecolor='k', capsize=4.5, elinewidth=1.5, capthick=1.5)
ax.set_xlim(-.819, 2.81)
ax.set_ylim(0, 3)
ax.set_yticks([0, 1, 2, 3])
ax.set_yticklabels(['0', '1.0', '2.0', '3.0'])
ax.set_xticks([0, 1, 2])
ax.set_xticklabels([])
style_bars(ax)
shift(ax.get_yticklabels(), [0] * 4, [9, 5, 2, 0])
for x, s in zip([956.6, 1002, 1048.6], e_marks):
    txt(x, 1149, s, ha='center')
bracket(936.5, 985.6, 955.7, 959.7, '****', 953, size=21)
bracket(998.6, 1047, 955.7, 1027, '**', 953, size=21)
txt(746.8, 1148, 'Anti-CD3/28:')
txt(834, 1028, 'CD5 MFI  (fold)', size=19, rotation=90, ha='center', va='center')
# Nur77 bars
ax = px_ax(1217.8, 952.3, 1388.3, 1124)
ax.bar([0, 1, 2], e_nur, .6, color=e_cols, edgecolor='k', linewidth=2)
ax.errorbar([0, 1, 2], e_nur, yerr=[[0, 0, 0], e_nur_err], fmt='none', ecolor='k', capsize=4.5, elinewidth=1.5, capthick=1.5)
ax.set_xlim((1217.8 - 1256) / 47, (1388.3 - 1256) / 47)
ax.set_ylim(0, 8)
ax.set_yticks([0, 2, 4, 6, 8])
ax.set_xticks([0, 1, 2])
ax.set_xticklabels([])
style_bars(ax)
shift(ax.get_yticklabels(), [0] * 5, [9, 6, 0, 0, -1])
for x, s in zip([1258, 1302.6, 1349.5], e_marks):
    txt(x, 1149, s, ha='center')
bracket(1241, 1289.6, 956.7, 1263.3, '****', 954, size=21)
bracket(1302.6, 1351, 956.7, 1329, '*', 954, size=21)
txt(1118, 1020, 'Nur77-GFP MFI', size=19.5, rotation=90, ha='center', va='center')
txt(1156.6, 1020, '(fold)', rotation=90, ha='center', va='center')
for x, col, tx_x, s in [(912, 'k', 931, 'IL-2 alone'), (1069, 'w', 1087.4, 'DMSO'), (1191, '#808080', 1211, 'GGTI')]:
    ov.add_patch(Rectangle((x - 6.5, 857.5), 13, 13, fc=col, ec='k', lw=2))
    txt(tx_x, 871.7, s)

# F
ax = px_ax(211, 1301.3, 371.7, 1463.3)
fx_wt = np.array([0, 1])
ax.bar(fx_wt, f_wt, .276, color='k')
ax.bar(fx_wt + .37, f_ko, .276, color='#a0a0a2')
ax.errorbar(fx_wt, f_wt, yerr=[[0, 0], f_wt_err], fmt='none', ecolor='k', capsize=3.6, elinewidth=1.5, capthick=1.5)
ax.errorbar(fx_wt + .37, f_ko, yerr=[[0, 0], f_ko_err], fmt='none', ecolor='k', capsize=3.6, elinewidth=1.5, capthick=1.5)
ax.set_xlim((211 - 235.5) / 81, (371.7 - 235.5) / 81)
ax.set_ylim(0, 2)
ax.set_yticks([0, .5, 1, 1.5, 2])
ax.set_yticklabels(['0', '0.5', '1.0', '1.5', '2.0'])
ax.set_xticks([.185, 1.185])
ax.set_xticklabels([])
style_bars(ax)
shift(ax.get_yticklabels(), [0] * 5, [1, 2, 2, 3, 4])
txt(257.5, 1491.7, 'cT' + sub, ha='center')
txt(338, 1491.7, 'eT' + sub, ha='center')
bracket(231, 267.7, 1365.7, 252, '***', 1362)
bracket(312.3, 348.3, 1303.7, 332.3, '*', 1300)
txt(89, 1357.6, r'Conjugated Foxp3$^{+}$', size=19.5, rotation=90, ha='center', va='center')
txt(124, 1357, 'cells % (fold)', rotation=90, ha='center', va='center')
ov.add_patch(Rectangle((161, 1194), 15.7, 15.5, color='k', lw=0))
ov.add_patch(Rectangle((161, 1228), 15.7, 15.5, color='#787574', lw=0))
txt(187, 1213, 'WT')
txt(190, 1244, genotype, size=19)

# G flow plots
g_ax = [(598.8, 776.3, f1_light, f1_blue, f1_green, f1_hot, 89, 64, 70.6),
        (784.9, 962, f2_light, f2_blue, f2_green, f2_hot, 89.4, 63.7, 69.7)]
for l, r, light, blue, green, hot, gx0, gw_top, gw_bot in g_ax:
    ax = px_ax(l, 1286, r, 1462.7)
    for pts, col, ms in [(light, '#9aa6f5', 1.6), (blue, '#2b3fd8', 2.0), (green, '#28c48a', 2.1), (hot, '#f0a020', 2.1)]:
        px, py = pair(pts)
        ax.plot(px, py, 's', color=col, ms=ms, mew=0)
    ax.add_patch(Rectangle((gx0, 110.4), gw_top, 42, fill=False, ec='#777777', lw=1.4))
    ax.add_patch(Rectangle((gx0, 0), gw_bot, 83, fill=False, ec='#777777', lw=1.4))
    ax.set_xlim(0, r - l)
    ax.set_ylim(0, 176.7)
    ax.set_xticks(facs_x_ticks)
    ax.set_yticks(facs_y_ticks)
    ax.set_xticklabels([])
    ax.set_yticklabels([])
    ax.tick_params(length=2, width=.7, color='#555555')
    for s in ax.spines.values():
        s.set_color('#777777')
        s.set_linewidth(1.2)
txt(620, 1344.3, '25.3')
txt(624.5, 1429, '68.1')
txt(807, 1344.3, '42.4')
txt(811, 1429, '48.8')
txt(475.5, 1359, r'Foxp3$^{+}$')
txt(475.5, 1395, r'YFP$^{+}$')
txt(621, 1240.7, r'$\mathcal{Foxp3}^{\mathrm{Cre/wt}}$', size=19)
txt(621, 1276, r'$\mathcal{Pggt1b}^{\mathrm{wt}}$', size=19)
txt(803.7, 1239, r'$\mathcal{Foxp3}^{\mathrm{Cre/wt}}$', size=19)
txt(803.7, 1274.7, r'$\mathcal{Pggt1b}^{\mathrm{fl/fl}}$', size=19)
txt(579, 1369, 'CD4-RM4-4-PE', rotation=90, ha='center', va='center')
txt(600.8, 1488, 'CD4-RM4-5')
for x0, x1, y in [(758, 953, 1481), (941.6, 989.4, 1333.3), (948.6, 996.7, 1412)]:
    ov.plot([x0, x1 - 15], [y, y], color='k', lw=1.5)
    ov.add_patch(Polygon([[x1 - 20, y - 10], [x1, y], [x1 - 20, y + 10]], color='k', lw=0))
txt(996, 1346.7, 'RP/MZ')
txt(1007, 1425.7, 'WP')

# G bars
ax = px_ax(1191, 1302.3, 1352.3, 1463.3)
gx_wt = np.array([0, 1])
ax.bar(gx_wt, g_wt, .276, color='k')
ax.bar(gx_wt + .374, g_ko, .276, color='#a0a0a2')
ax.errorbar(gx_wt, g_wt, yerr=[[0, 0], g_wt_err], fmt='none', ecolor='k', capsize=3.6, elinewidth=1.5, capthick=1.5)
ax.errorbar(gx_wt + .374, g_ko, yerr=[[0, 0], g_ko_err], fmt='none', ecolor='k', capsize=3.6, elinewidth=1.5, capthick=1.5)
ax.set_xlim((1191 - 1216.2) / 80.7, (1352.3 - 1216.2) / 80.7)
ax.set_ylim(0, 80)
ax.set_yticks([0, 20, 40, 60, 80])
ax.set_xticks([.187, 1.187])
ax.set_xticklabels([])
style_bars(ax)
shift(ax.get_yticklabels(), [0] * 5, [3, 1, 1, 3, 4])
txt(1234, 1490.7, 'RP/MZ', ha='center')
txt(1312.3, 1490.7, 'WP', ha='center')
bracket(1212.3, 1248.7, 1314.7, 1231, '*', 1311)
bracket(1294.3, 1330.7, 1320.3, 1315, '*', 1316.5)
txt(1123, 1376.7, 'Percentage (%)', rotation=90, ha='center', va='center')
ov.add_patch(Rectangle((1172.3, 1209), 16.4, 15.5, color='k', lw=0))
ov.add_patch(Rectangle((1173, 1244), 15.7, 15.5, color='#787574', lw=0))
txt(1206.7, 1226.7, r'$\mathcal{Foxp3}^{\mathrm{Cre/wt}}\mathcal{Pggt1b}^{\mathrm{wt}}$', size=19)
txt(1205, 1262.7, r'$\mathcal{Foxp3}^{\mathrm{Cre/wt}}\mathcal{Pggt1b}^{\mathrm{fl/fl}}$', size=19)

fig.savefig('out.png', dpi=100)
